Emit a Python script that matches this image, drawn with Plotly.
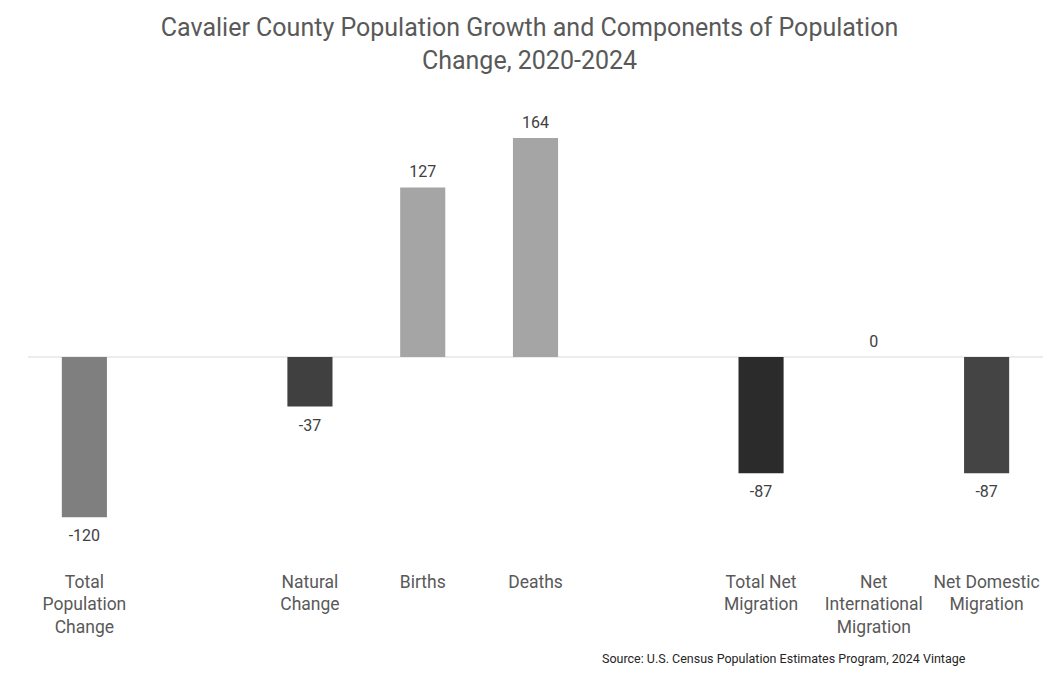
import plotly.graph_objects as go

categories = ["Total Population Change", " ", "Natural Change", "Births", "Deaths", "  ",
              "Total Net Migration", "Net International Migration", "Net Domestic Migration"]
values = [-120, None, -37, 127, 164, None, -87, 0, -87]
tick_labels = ["Total<br>Population<br>Change", "", "Natural<br>Change", "Births", "Deaths", "",
               "Total Net<br>Migration", "Net<br>International<br>Migration", "Net Domestic<br>Migration"]
bar_colors = ["#7f7f7f", "#ffffff", "#404040", "#a5a5a5", "#a5a5a5", "#ffffff",
              "#2b2b2b", "#595959", "#444444"]

title = "Cavalier County Population Growth and Components of Population<br>Change, 2020-2024"
source = "Source: U.S. Census Population Estimates Program, 2024 Vintage"

label_cats = [c for c, v in zip(categories, values) if v is not None]
label_vals = [v for v in values if v is not None]
label_pos = ["bottom center" if v < 0 else "top center" for v in label_vals]
label_pad = [18 if v < 0 else 8 for v in label_vals]

fig = go.Figure()
fig.add_trace(go.Bar(
    x=categories, y=values, marker=dict(color=bar_colors, line=dict(width=0)),
    width=0.4, showlegend=False, hoverinfo="x+y",
))
fig.add_trace(go.Scatter(
    x=label_cats, y=label_vals, mode="markers+text",
    marker=dict(size=label_pad, opacity=0),
    text=[str(v) for v in label_vals], textposition=label_pos,
    textfont=dict(family="Roboto", size=16, color="#404040"),
    showlegend=False, hoverinfo="skip",
))

fig.update_layout(
    width=1059, height=697,
    paper_bgcolor="white", plot_bgcolor="white",
    margin=dict(l=28, r=16, t=110, b=152),
    title=dict(text=title, x=0.5, xanchor="center", y=661 / 697, yanchor="top",
               font=dict(family="Roboto", size=25, color="#595959")),
    font=dict(family="Roboto", color="#595959"),
    bargap=0.6,
)
fig.update_xaxes(
    type="category", categoryorder="array", categoryarray=categories,
    range=[-0.5, len(categories) - 0.5],
    tickvals=categories, ticktext=tick_labels,
    tickfont=dict(family="Roboto", size=17.5, color="#595959"),
    ticklabelstandoff=24,
    showgrid=False, showline=False, zeroline=False, ticks="",
)
fig.update_yaxes(
    range=[-140.8, 185], visible=False, showgrid=False,
    zeroline=True,
)
fig.add_shape(type="line", xref="paper", yref="y", x0=0, x1=1, y0=0, y1=0,
              line=dict(color="#d9d9d9", width=1), layer="below")
fig.add_annotation(text=source, xref="paper", yref="paper", x=(968 - 28) / (1059 - 44),
                   y=-(658 - 545) / (545 - 110),
                   xanchor="right", yanchor="middle", showarrow=False,
                   font=dict(family="Roboto", size=12.5, color="#262626"))

fig.write_html("out.html")
